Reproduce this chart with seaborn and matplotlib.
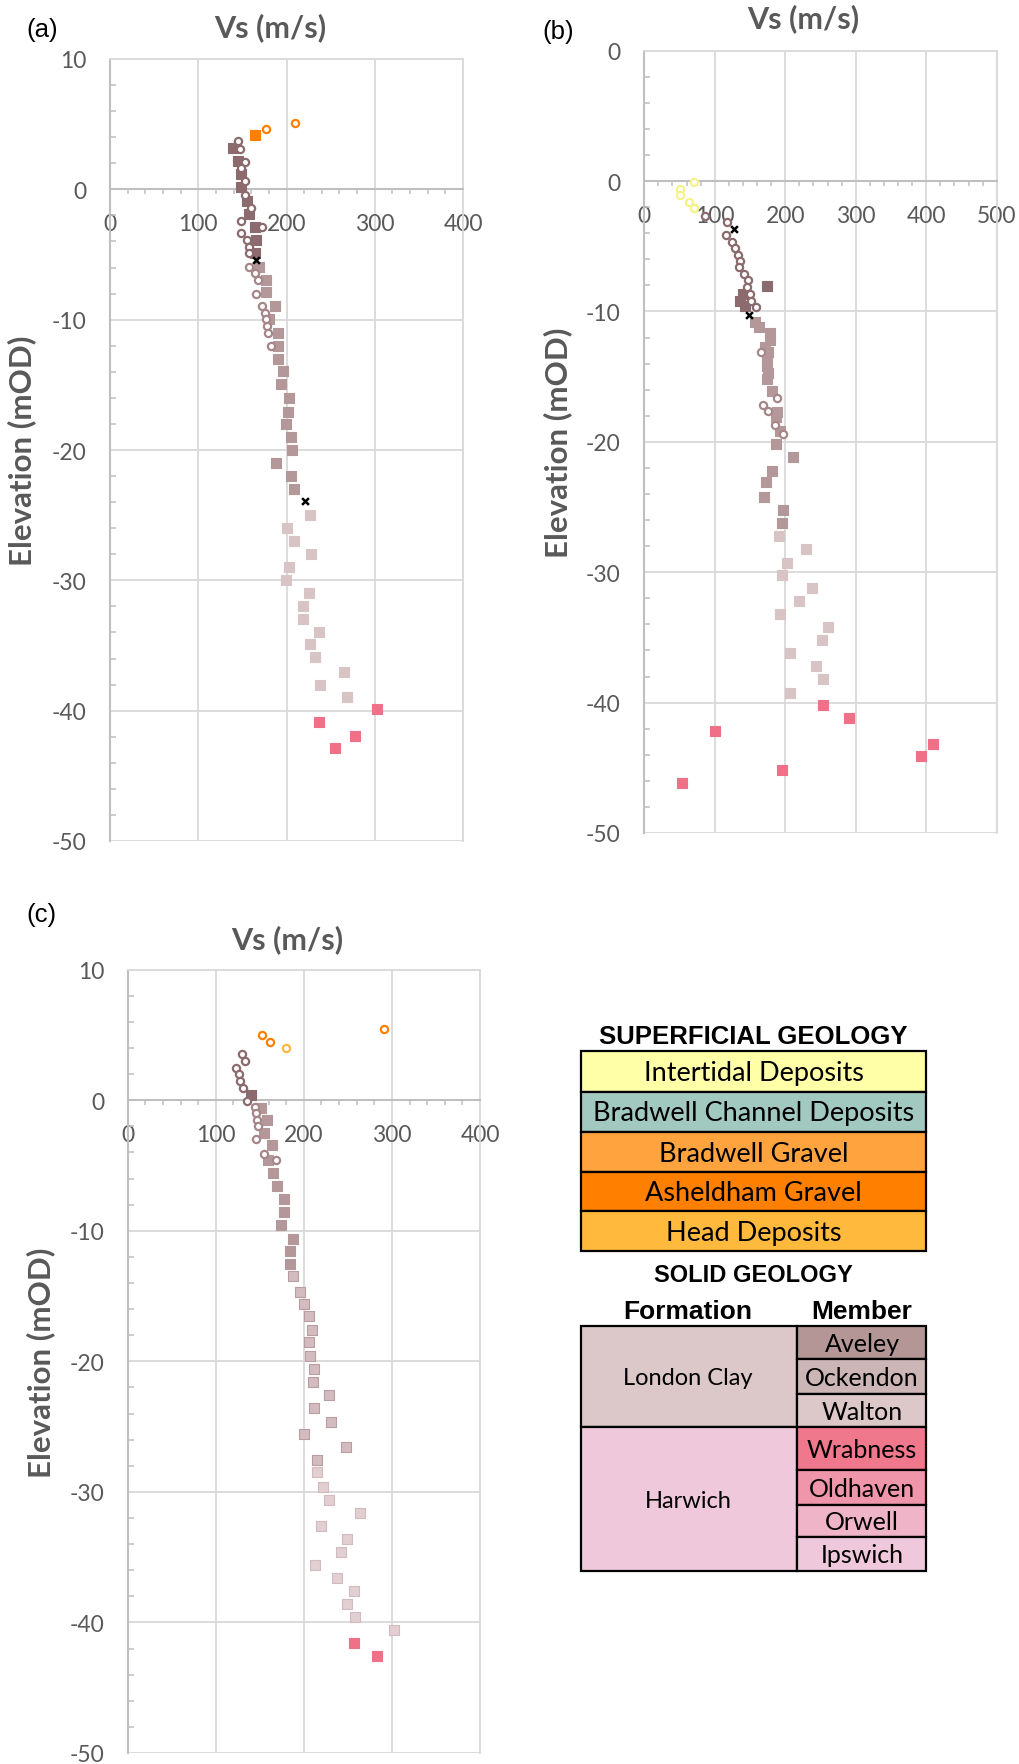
import numpy as np
import pandas as pd
import matplotlib
matplotlib.use("Agg")
import matplotlib.pyplot as plt
import seaborn as sns
from matplotlib.patches import Rectangle
from matplotlib.ticker import MultipleLocator

# ---------------- data (Vs in m/s, elevation in mOD) ----------------
# Panel (a)
a_ash_sq_vs = [164]
a_ash_sq_el = [4.15]
a_ash_ci_vs = [177, 209.5]
a_ash_ci_el = [4.64, 5.1]
a_ave_sq_vs = [139, 145, 149, 148, 155, 157, 164, 165, 164]
a_ave_sq_el = [3.14, 2.19, 1.19, 0.2, -0.9, -1.86, -2.9, -3.87, -4.87]
a_ave_ci_vs = [145, 147.5, 153, 149, 153, 153, 159.5, 148.6, 172, 148, 155, 158, 157]
a_ave_ci_el = [3.7, 3.1, 2.1, 1.6, 0.64, -0.4, -1.4, -2.4, -2.9, -3.35, -3.87, -4.4, -4.87]
a_x_vs = [165, 221]
a_x_el = [-5.4, -23.95]
a_ock_sq_vs = [169, 176.6, 176.6, 187, 180, 190, 190, 190, 196, 193.6, 203, 201.5, 199, 205, 206, 188.6, 205, 209]
a_ock_sq_el = [-5.98, -6.96, -7.9, -8.94, -9.92, -11.0, -12.0, -13.0, -13.97, -14.95, -16.0, -17.06, -18.04, -19.0,
               -20.0, -21.0, -22.0, -22.98]
a_ock_ci_vs = [158, 164, 168, 166, 172, 176, 176.6, 178, 179, 183]
a_ock_ci_el = [-5.98, -6.44, -6.96, -8.0, -8.94, -9.46, -9.97, -10.5, -11.0, -12.0]
a_wal_sq_vs = [227, 200, 209, 228, 203, 199, 225, 219, 219, 237, 227, 232.5, 264.7, 238, 269]
a_wal_sq_el = [-24.97, -26.0, -27.0, -27.95, -28.97, -29.94, -31.0, -31.97, -32.97, -33.96, -34.9, -35.9, -37.0,
               -38.0, -38.96]
a_wra_sq_vs = [302.5, 236.7, 277.5, 254.4]
a_wra_sq_el = [-39.9, -40.9, -41.97, -42.9]

# Panel (b)
b_int_ci_vs = [70.5, 50.6, 50.6, 63.9, 70.5]
b_int_ci_el = [-0.1, -0.6, -1.1, -1.6, -2.1]
b_ave_ci_vs = [86, 117.8, 116, 124, 128.7, 133.4, 135.8, 134.3, 141.4, 147.6, 146, 150, 151.4, 158.5]
b_ave_ci_el = [-2.64, -3.15, -4.15, -4.64, -5.15, -5.64, -6.13, -6.6, -7.15, -7.6, -8.13, -8.64, -9.18, -9.67]
b_x_vs = [127.7, 149]
b_x_el = [-3.67, -10.26]
b_ave_sq_vs = [174.5, 139.5, 135.8, 142.9]
b_ave_sq_el = [-8.08, -8.64, -9.18, -9.6]
b_ock_sq_vs = [157, 162.7, 178, 178, 171, 175.7, 173.6, 173.6, 175.7, 173.6, 180.7, 187.8, 187, 192, 187, 210.5,
               181.6, 172, 170, 197, 196]
b_ock_sq_el = [-10.77, -11.2, -11.67, -12.2, -12.7, -13.1, -13.7, -14.2, -14.7, -15.2, -16.1, -17.7, -18.1, -19.2,
               -20.2, -21.2, -22.2, -23.1, -24.2, -25.2, -26.2]
b_ock_ci_vs = [165, 188.8, 168, 176, 185, 197]
b_ock_ci_el = [-13.1, -16.67, -17.2, -17.6, -18.7, -19.4]
b_wal_sq_vs = [191, 230, 203, 196, 238, 219, 192.5, 260, 252, 206.6, 243, 254, 206.6]
b_wal_sq_el = [-27.2, -28.2, -29.3, -30.2, -31.2, -32.2, -33.2, -34.2, -35.2, -36.2, -37.2, -38.2, -39.3]
b_wra_sq_vs = [254, 290.5, 99.7, 409, 393, 196, 54]
b_wra_sq_el = [-40.2, -41.2, -42.2, -43.2, -44.1, -45.2, -46.2]

# Panel (c)
c_ash_ci_vs = [152.9, 161.6, 291]
c_ash_ci_el = [5.0, 4.5, 5.46]
c_head_ci_vs = [179.7]
c_head_ci_el = [4.0]
c_ave_ci_vs = [129.8, 133, 122.6, 126.4, 127.5, 130.5, 135]
c_ave_ci_el = [3.54, 3.0, 2.5, 2.0, 1.44, 0.92, -0.08]
c_ave_sq_vs = [139.6]
c_ave_sq_el = [0.44]
c_ock_sq_vs = [151.3, 157.8, 155, 163.5, 159, 165.3, 169.5, 177, 177, 174, 187.3, 184.3, 184.3]
c_ock_sq_el = [-0.56, -1.51, -2.49, -3.46, -4.59, -5.56, -6.54, -7.54, -8.54, -9.59, -10.59, -11.56, -12.56]
c_ock_ci_vs = [144, 145.7, 146.5, 147.6, 145.7, 155, 168]
c_ock_ci_el = [-0.5, -1.0, -1.51, -2.0, -3.0, -4.08, -4.59]
c_ock_dot_vs = [187.3, 195.6, 200, 206, 208.8, 206, 207.4, 212, 210, 229, 212, 231, 200, 248, 215]
c_ock_dot_el = [-13.5, -14.7, -15.6, -16.56, -17.58, -18.55, -19.6, -20.6, -21.57, -22.57, -23.54, -24.64, -25.6,
                -26.57, -27.57]
c_wal_dot_vs = [215, 222, 229, 264, 220, 248.6, 242, 213, 238, 257, 248.6, 258.4, 302]
c_wal_dot_el = [-28.5, -29.6, -30.6, -31.6, -32.6, -33.6, -34.6, -35.6, -36.6, -37.6, -38.55, -39.6, -40.6]
c_wra_sq_vs = [257, 283]
c_wra_sq_el = [-41.6, -42.55]

# Axis ticks / labels
x_ticks_ac = [0, 100, 200, 300, 400]
x_ticks_b = [0, 100, 200, 300, 400, 500]
y_ticks = [-50, -40, -30, -20, -10, 0, 10]
y_labels_ac = ["-50", "-40", "-30", "-20", "-10", "0", "10"]
y_labels_b = ["-50", "-40", "-30", "-20", "-10", "0", "0"]

# Legend content
superficial_units = ["Intertidal Deposits", "Bradwell Channel Deposits", "Bradwell Gravel",
                     "Asheldham Gravel", "Head Deposits"]
superficial_colors = ["#FFFFA8", "#A2C9C0", "#FFA33F", "#FF7F00", "#FFBA3E"]
formations = ["London Clay", "Harwich"]
formation_colors = ["#DCC8C8", "#F0C8DC"]
members = ["Aveley", "Ockendon", "Walton", "Wrabness", "Oldhaven", "Orwell", "Ipswich"]
member_colors = ["#B49696", "#CBB5B5", "#DCC8C8", "#F0788C", "#F096AA", "#F0B4C8", "#F0C8DC"]

# marker colours
AVE = "#8C6B6E"
OCK = "#B39799"
OCK_CI = "#A68689"
WAL = "#D8C3C5"
WRA = "#F07088"
ASH = "#FF8000"
INT = "#F6F28A"
HEAD = "#FFB547"

# ---------------- figure ----------------
sns.set_theme(style="white")
plt.rcParams["font.family"] = ["Lato", "DejaVu Sans"]
plt.rcParams["axes.unicode_minus"] = False

fig = plt.figure(figsize=(10.2, 17.65), dpi=100)
W, H = 1020.0, 1765.0


def add_ax(left, top, right, bottom):
    return fig.add_axes([left / W, 1 - bottom / H, (right - left) / W, (bottom - top) / H])


ax_a = add_ax(110, 60, 463, 842)
ax_b = add_ax(644.3, 51.7, 996.7, 834)
ax_c = add_ax(127.7, 970.7, 480, 1754)


def sq(ax, v, e, face, edge=None):
    sns.scatterplot(x=v, y=e, ax=ax, marker="s", s=56, facecolor=face,
                    edgecolor=edge if edge else face, linewidth=0.8, zorder=3)


def ci(ax, v, e, color):
    sns.scatterplot(x=v, y=e, ax=ax, marker="o", s=27, facecolor="white",
                    edgecolor=color, linewidth=1.6, zorder=4)


def xm(ax, v, e):
    sns.scatterplot(x=v, y=e, ax=ax, marker="x", s=24, color="black", linewidth=1.8, zorder=5)


def style(ax, xticks, ylabels, title_xy, ylabel_x):
    ax.set_xlim(0, xticks[-1])
    ax.set_ylim(-50, 10)
    ax.set_xticks(xticks)
    ax.set_xticklabels([str(t) for t in xticks])
    ax.set_yticks(y_ticks)
    ax.set_yticklabels(ylabels)
    ax.xaxis.set_minor_locator(MultipleLocator(20))
    ax.yaxis.set_minor_locator(MultipleLocator(2))
    ax.grid(True, which="major", color="#D9D9D9", lw=1.3)
    ax.grid(False, which="minor")
    ax.set_axisbelow(True)
    ax.spines["bottom"].set_position(("data", 0))
    for s in ["top", "right"]:
        ax.spines[s].set_color("#D9D9D9")
        ax.spines[s].set_linewidth(1.3)
    for s in ["left", "bottom"]:
        ax.spines[s].set_color("#BFBFBF")
        ax.spines[s].set_linewidth(1.5)
    ax.tick_params(which="both", bottom=True, left=True, top=False, right=False)
    ax.tick_params(axis="both", which="major", length=0, labelsize=16.5, labelcolor="#595959")
    ax.tick_params(axis="x", which="major", pad=17)
    ax.tick_params(axis="y", which="major", pad=17)
    ax.tick_params(axis="x", which="minor", direction="out", length=3.5, width=1.1, color="#BFBFBF")
    ax.tick_params(axis="y", which="minor", direction="in", length=4, width=1.1, color="#BFBFBF")
    ax.set_xlabel("Vs (m/s)", fontsize=22, fontweight="bold", color="#595959")
    ax.xaxis.label.set_verticalalignment("center")
    ax.xaxis.set_label_coords(title_xy[0], title_xy[1])
    ax.set_ylabel("Elevation (mOD)", fontsize=22.5, fontweight="bold", color="#595959")
    ax.yaxis.label.set_verticalalignment("center")
    ax.yaxis.set_label_coords(ylabel_x, 0.5)


# ---- panel (a)
sq(ax_a, a_wal_sq_vs, a_wal_sq_el, WAL)
sq(ax_a, a_wra_sq_vs, a_wra_sq_el, WRA)
sq(ax_a, a_ock_sq_vs, a_ock_sq_el, OCK)
ci(ax_a, a_ock_ci_vs, a_ock_ci_el, OCK_CI)
sq(ax_a, a_ave_sq_vs, a_ave_sq_el, AVE)
ci(ax_a, a_ave_ci_vs, a_ave_ci_el, AVE)
sq(ax_a, a_ash_sq_vs, a_ash_sq_el, ASH)
ci(ax_a, a_ash_ci_vs, a_ash_ci_el, ASH)
xm(ax_a, a_x_vs, a_x_el)
style(ax_a, x_ticks_ac, y_labels_ac, (0.453, 1.041), -0.249)

# ---- panel (b)
sq(ax_b, b_wal_sq_vs, b_wal_sq_el, WAL)
sq(ax_b, b_wra_sq_vs, b_wra_sq_el, WRA)
sq(ax_b, b_ock_sq_vs, b_ock_sq_el, OCK)
ci(ax_b, b_ock_ci_vs, b_ock_ci_el, OCK_CI)
ci(ax_b, b_ave_ci_vs, b_ave_ci_el, AVE)
sq(ax_b, b_ave_sq_vs, b_ave_sq_el, AVE)
ci(ax_b, b_int_ci_vs, b_int_ci_el, INT)
xm(ax_b, b_x_vs, b_x_el)
style(ax_b, x_ticks_b, y_labels_b, (0.450, 1.042), -0.246)

# ---- panel (c)
sq(ax_c, c_wal_dot_vs, c_wal_dot_el, "#E2CFD1", "#D2BBBE")
sq(ax_c, c_ock_dot_vs, c_ock_dot_el, "#D2BCBF", "#B99DA1")
sq(ax_c, c_wra_sq_vs, c_wra_sq_el, WRA)
sq(ax_c, c_ock_sq_vs, c_ock_sq_el, OCK)
ci(ax_c, c_ock_ci_vs, c_ock_ci_el, OCK_CI)
ci(ax_c, c_ave_ci_vs, c_ave_ci_el, AVE)
sq(ax_c, c_ave_sq_vs, c_ave_sq_el, AVE)
ci(ax_c, c_ash_ci_vs, c_ash_ci_el, ASH)
ci(ax_c, c_head_ci_vs, c_head_ci_el, HEAD)
style(ax_c, x_ticks_ac, y_labels_ac, (0.452, 1.040), -0.246)

# ---------------- overlay: panel letters + legend (pixel coords) ----------------
ov = fig.add_axes([0, 0, 1, 1], facecolor="none")
ov.set_xlim(0, W)
ov.set_ylim(H, 0)
ov.axis("off")

for lab, (px, py) in zip(["(a)", "(b)", "(c)"], [(42, 30), (558, 32), (41, 915)]):
    ov.text(px, py, lab, fontsize=18.5, family=["Liberation Sans", "DejaVu Sans"],
            ha="center", va="center", color="black")

HDR = ["Liberation Sans", "DejaVu Sans"]
ov.text(753, 1037, "SUPERFICIAL GEOLOGY", fontsize=18.5, fontweight="bold", family=HDR,
        ha="center", va="center", color="black")
sup_top = [1052, 1093, 1133, 1173, 1212]
sup_bot = [1093, 1133, 1173, 1212, 1252]
for name, col, t, b in zip(superficial_units, superficial_colors, sup_top, sup_bot):
    ov.add_patch(Rectangle((581, t), 926 - 581, b - t, facecolor=col, edgecolor="black", lw=1.6))
    ov.text(753.5, (t + b) / 2 + 1, name, fontsize=19.5, ha="center", va="center", color="black")

ov.text(753, 1275, "SOLID GEOLOGY", fontsize=17, fontweight="bold", family=HDR,
        ha="center", va="center", color="black")
ov.text(688, 1312, "Formation", fontsize=19, fontweight="bold", family=HDR,
        ha="center", va="center", color="black")
ov.text(862, 1312, "Member", fontsize=19, fontweight="bold", family=HDR,
        ha="center", va="center", color="black")

form_top = [1327, 1428]
form_bot = [1428, 1572]
for name, col, t, b in zip(formations, formation_colors, form_top, form_bot):
    ov.add_patch(Rectangle((581, t), 797 - 581, b - t, facecolor=col, edgecolor="black", lw=1.6))
    ov.text(688, (t + b) / 2 + 1, name, fontsize=17, ha="center", va="center", color="black")

mem_top = [1327, 1360, 1395, 1428, 1471, 1506, 1538]
mem_bot = [1360, 1395, 1428, 1471, 1506, 1538, 1572]
for name, col, t, b in zip(members, member_colors, mem_top, mem_bot):
    ov.add_patch(Rectangle((797, t), 926 - 797, b - t, facecolor=col, edgecolor="black", lw=1.6))
    ov.text(862, (t + b) / 2 + 1, name, fontsize=18, ha="center", va="center", color="black")

fig.savefig("out.png", dpi=100)
